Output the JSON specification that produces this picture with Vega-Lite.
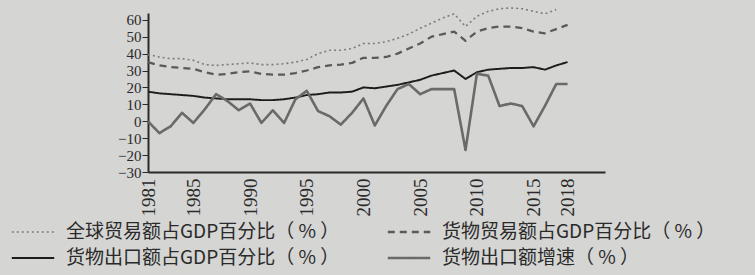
{
  "$schema": "https://vega.github.io/schema/vega-lite/v6.json",
  "width": 457,
  "height": 159,
  "autosize": {"type": "none"},
  "padding": {"left": 148, "top": 13, "right": 150, "bottom": 103},
  "background": "#d5d5d3",
  "config": {
    "view": {"stroke": null},
    "axis": {"grid": false, "domainColor": "#2a2a2a", "domainWidth": 2, "tickColor": "#2a2a2a", "labelColor": "#2a2a2a", "labelFont": "Liberation Serif", "labelFontSize": 15, "labelOverlap": false}
  },
  "datasets": {
    "d": [
      {"year": 1981, "s": "全球贸易额占GDP百分比（ % ）", "v": 39.5},
      {"year": 1982, "s": "全球贸易额占GDP百分比（ % ）", "v": 38},
      {"year": 1983, "s": "全球贸易额占GDP百分比（ % ）", "v": 37},
      {"year": 1984, "s": "全球贸易额占GDP百分比（ % ）", "v": 37},
      {"year": 1985, "s": "全球贸易额占GDP百分比（ % ）", "v": 36},
      {"year": 1986, "s": "全球贸易额占GDP百分比（ % ）", "v": 33.5},
      {"year": 1987, "s": "全球贸易额占GDP百分比（ % ）", "v": 33},
      {"year": 1988, "s": "全球贸易额占GDP百分比（ % ）", "v": 33.5},
      {"year": 1989, "s": "全球贸易额占GDP百分比（ % ）", "v": 34},
      {"year": 1990, "s": "全球贸易额占GDP百分比（ % ）", "v": 34.5},
      {"year": 1991, "s": "全球贸易额占GDP百分比（ % ）", "v": 33.5},
      {"year": 1992, "s": "全球贸易额占GDP百分比（ % ）", "v": 33.5},
      {"year": 1993, "s": "全球贸易额占GDP百分比（ % ）", "v": 34},
      {"year": 1994, "s": "全球贸易额占GDP百分比（ % ）", "v": 35},
      {"year": 1995, "s": "全球贸易额占GDP百分比（ % ）", "v": 36.5},
      {"year": 1996, "s": "全球贸易额占GDP百分比（ % ）", "v": 40},
      {"year": 1997, "s": "全球贸易额占GDP百分比（ % ）", "v": 42},
      {"year": 1998, "s": "全球贸易额占GDP百分比（ % ）", "v": 42},
      {"year": 1999, "s": "全球贸易额占GDP百分比（ % ）", "v": 43},
      {"year": 2000, "s": "全球贸易额占GDP百分比（ % ）", "v": 46},
      {"year": 2001, "s": "全球贸易额占GDP百分比（ % ）", "v": 46},
      {"year": 2002, "s": "全球贸易额占GDP百分比（ % ）", "v": 47},
      {"year": 2003, "s": "全球贸易额占GDP百分比（ % ）", "v": 49},
      {"year": 2004, "s": "全球贸易额占GDP百分比（ % ）", "v": 51.5},
      {"year": 2005, "s": "全球贸易额占GDP百分比（ % ）", "v": 55},
      {"year": 2006, "s": "全球贸易额占GDP百分比（ % ）", "v": 58},
      {"year": 2007, "s": "全球贸易额占GDP百分比（ % ）", "v": 61},
      {"year": 2008, "s": "全球贸易额占GDP百分比（ % ）", "v": 63.5},
      {"year": 2009, "s": "全球贸易额占GDP百分比（ % ）", "v": 56},
      {"year": 2010, "s": "全球贸易额占GDP百分比（ % ）", "v": 62},
      {"year": 2011, "s": "全球贸易额占GDP百分比（ % ）", "v": 65},
      {"year": 2012, "s": "全球贸易额占GDP百分比（ % ）", "v": 66.5},
      {"year": 2013, "s": "全球贸易额占GDP百分比（ % ）", "v": 67},
      {"year": 2014, "s": "全球贸易额占GDP百分比（ % ）", "v": 66.5},
      {"year": 2015, "s": "全球贸易额占GDP百分比（ % ）", "v": 65},
      {"year": 2016, "s": "全球贸易额占GDP百分比（ % ）", "v": 63.5},
      {"year": 2017, "s": "全球贸易额占GDP百分比（ % ）", "v": 66},
      {"year": 1981, "s": "货物贸易额占GDP百分比（ % ）", "v": 35},
      {"year": 1982, "s": "货物贸易额占GDP百分比（ % ）", "v": 33},
      {"year": 1983, "s": "货物贸易额占GDP百分比（ % ）", "v": 32},
      {"year": 1984, "s": "货物贸易额占GDP百分比（ % ）", "v": 31.5},
      {"year": 1985, "s": "货物贸易额占GDP百分比（ % ）", "v": 31},
      {"year": 1986, "s": "货物贸易额占GDP百分比（ % ）", "v": 29},
      {"year": 1987, "s": "货物贸易额占GDP百分比（ % ）", "v": 27.5},
      {"year": 1988, "s": "货物贸易额占GDP百分比（ % ）", "v": 28},
      {"year": 1989, "s": "货物贸易额占GDP百分比（ % ）", "v": 29},
      {"year": 1990, "s": "货物贸易额占GDP百分比（ % ）", "v": 29.5},
      {"year": 1991, "s": "货物贸易额占GDP百分比（ % ）", "v": 28},
      {"year": 1992, "s": "货物贸易额占GDP百分比（ % ）", "v": 27.5},
      {"year": 1993, "s": "货物贸易额占GDP百分比（ % ）", "v": 27.5},
      {"year": 1994, "s": "货物贸易额占GDP百分比（ % ）", "v": 28.5},
      {"year": 1995, "s": "货物贸易额占GDP百分比（ % ）", "v": 30},
      {"year": 1996, "s": "货物贸易额占GDP百分比（ % ）", "v": 32},
      {"year": 1997, "s": "货物贸易额占GDP百分比（ % ）", "v": 33},
      {"year": 1998, "s": "货物贸易额占GDP百分比（ % ）", "v": 33.5},
      {"year": 1999, "s": "货物贸易额占GDP百分比（ % ）", "v": 34.5},
      {"year": 2000, "s": "货物贸易额占GDP百分比（ % ）", "v": 37.5},
      {"year": 2001, "s": "货物贸易额占GDP百分比（ % ）", "v": 37.5},
      {"year": 2002, "s": "货物贸易额占GDP百分比（ % ）", "v": 38},
      {"year": 2003, "s": "货物贸易额占GDP百分比（ % ）", "v": 40},
      {"year": 2004, "s": "货物贸易额占GDP百分比（ % ）", "v": 43},
      {"year": 2005, "s": "货物贸易额占GDP百分比（ % ）", "v": 46},
      {"year": 2006, "s": "货物贸易额占GDP百分比（ % ）", "v": 50},
      {"year": 2007, "s": "货物贸易额占GDP百分比（ % ）", "v": 51.5},
      {"year": 2008, "s": "货物贸易额占GDP百分比（ % ）", "v": 53},
      {"year": 2009, "s": "货物贸易额占GDP百分比（ % ）", "v": 47.5},
      {"year": 2010, "s": "货物贸易额占GDP百分比（ % ）", "v": 53},
      {"year": 2011, "s": "货物贸易额占GDP百分比（ % ）", "v": 55},
      {"year": 2012, "s": "货物贸易额占GDP百分比（ % ）", "v": 56},
      {"year": 2013, "s": "货物贸易额占GDP百分比（ % ）", "v": 56},
      {"year": 2014, "s": "货物贸易额占GDP百分比（ % ）", "v": 55},
      {"year": 2015, "s": "货物贸易额占GDP百分比（ % ）", "v": 53},
      {"year": 2016, "s": "货物贸易额占GDP百分比（ % ）", "v": 52},
      {"year": 2017, "s": "货物贸易额占GDP百分比（ % ）", "v": 54.5},
      {"year": 2018, "s": "货物贸易额占GDP百分比（ % ）", "v": 57},
      {"year": 1981, "s": "货物出口额占GDP百分比（ % ）", "v": 17.5},
      {"year": 1982, "s": "货物出口额占GDP百分比（ % ）", "v": 16.5},
      {"year": 1983, "s": "货物出口额占GDP百分比（ % ）", "v": 16},
      {"year": 1984, "s": "货物出口额占GDP百分比（ % ）", "v": 15.5},
      {"year": 1985, "s": "货物出口额占GDP百分比（ % ）", "v": 15},
      {"year": 1986, "s": "货物出口额占GDP百分比（ % ）", "v": 14},
      {"year": 1987, "s": "货物出口额占GDP百分比（ % ）", "v": 13.5},
      {"year": 1988, "s": "货物出口额占GDP百分比（ % ）", "v": 13},
      {"year": 1989, "s": "货物出口额占GDP百分比（ % ）", "v": 13},
      {"year": 1990, "s": "货物出口额占GDP百分比（ % ）", "v": 13},
      {"year": 1991, "s": "货物出口额占GDP百分比（ % ）", "v": 12.5},
      {"year": 1992, "s": "货物出口额占GDP百分比（ % ）", "v": 12.5},
      {"year": 1993, "s": "货物出口额占GDP百分比（ % ）", "v": 13},
      {"year": 1994, "s": "货物出口额占GDP百分比（ % ）", "v": 14},
      {"year": 1995, "s": "货物出口额占GDP百分比（ % ）", "v": 15.5},
      {"year": 1996, "s": "货物出口额占GDP百分比（ % ）", "v": 16},
      {"year": 1997, "s": "货物出口额占GDP百分比（ % ）", "v": 17},
      {"year": 1998, "s": "货物出口额占GDP百分比（ % ）", "v": 17},
      {"year": 1999, "s": "货物出口额占GDP百分比（ % ）", "v": 17.5},
      {"year": 2000, "s": "货物出口额占GDP百分比（ % ）", "v": 20},
      {"year": 2001, "s": "货物出口额占GDP百分比（ % ）", "v": 19.5},
      {"year": 2002, "s": "货物出口额占GDP百分比（ % ）", "v": 20.5},
      {"year": 2003, "s": "货物出口额占GDP百分比（ % ）", "v": 21.5},
      {"year": 2004, "s": "货物出口额占GDP百分比（ % ）", "v": 23},
      {"year": 2005, "s": "货物出口额占GDP百分比（ % ）", "v": 24.5},
      {"year": 2006, "s": "货物出口额占GDP百分比（ % ）", "v": 27},
      {"year": 2007, "s": "货物出口额占GDP百分比（ % ）", "v": 28.5},
      {"year": 2008, "s": "货物出口额占GDP百分比（ % ）", "v": 30},
      {"year": 2009, "s": "货物出口额占GDP百分比（ % ）", "v": 25},
      {"year": 2010, "s": "货物出口额占GDP百分比（ % ）", "v": 29},
      {"year": 2011, "s": "货物出口额占GDP百分比（ % ）", "v": 30.5},
      {"year": 2012, "s": "货物出口额占GDP百分比（ % ）", "v": 31},
      {"year": 2013, "s": "货物出口额占GDP百分比（ % ）", "v": 31.5},
      {"year": 2014, "s": "货物出口额占GDP百分比（ % ）", "v": 31.5},
      {"year": 2015, "s": "货物出口额占GDP百分比（ % ）", "v": 32},
      {"year": 2016, "s": "货物出口额占GDP百分比（ % ）", "v": 30.5},
      {"year": 2017, "s": "货物出口额占GDP百分比（ % ）", "v": 33},
      {"year": 2018, "s": "货物出口额占GDP百分比（ % ）", "v": 35},
      {"year": 1981, "s": "货物出口额增速（ % ）", "v": 0},
      {"year": 1982, "s": "货物出口额增速（ % ）", "v": -7},
      {"year": 1983, "s": "货物出口额增速（ % ）", "v": -3},
      {"year": 1984, "s": "货物出口额增速（ % ）", "v": 5},
      {"year": 1985, "s": "货物出口额增速（ % ）", "v": -1},
      {"year": 1986, "s": "货物出口额增速（ % ）", "v": 7},
      {"year": 1987, "s": "货物出口额增速（ % ）", "v": 16},
      {"year": 1988, "s": "货物出口额增速（ % ）", "v": 12},
      {"year": 1989, "s": "货物出口额增速（ % ）", "v": 6.5},
      {"year": 1990, "s": "货物出口额增速（ % ）", "v": 10.5},
      {"year": 1991, "s": "货物出口额增速（ % ）", "v": -1},
      {"year": 1992, "s": "货物出口额增速（ % ）", "v": 6.5},
      {"year": 1993, "s": "货物出口额增速（ % ）", "v": -1},
      {"year": 1994, "s": "货物出口额增速（ % ）", "v": 13},
      {"year": 1995, "s": "货物出口额增速（ % ）", "v": 18},
      {"year": 1996, "s": "货物出口额增速（ % ）", "v": 6},
      {"year": 1997, "s": "货物出口额增速（ % ）", "v": 3},
      {"year": 1998, "s": "货物出口额增速（ % ）", "v": -2},
      {"year": 1999, "s": "货物出口额增速（ % ）", "v": 5},
      {"year": 2000, "s": "货物出口额增速（ % ）", "v": 13.5},
      {"year": 2001, "s": "货物出口额增速（ % ）", "v": -2.5},
      {"year": 2002, "s": "货物出口额增速（ % ）", "v": 9},
      {"year": 2003, "s": "货物出口额增速（ % ）", "v": 19},
      {"year": 2004, "s": "货物出口额增速（ % ）", "v": 22},
      {"year": 2005, "s": "货物出口额增速（ % ）", "v": 16},
      {"year": 2006, "s": "货物出口额增速（ % ）", "v": 19},
      {"year": 2007, "s": "货物出口额增速（ % ）", "v": 19},
      {"year": 2008, "s": "货物出口额增速（ % ）", "v": 19},
      {"year": 2009, "s": "货物出口额增速（ % ）", "v": -17},
      {"year": 2010, "s": "货物出口额增速（ % ）", "v": 28},
      {"year": 2011, "s": "货物出口额增速（ % ）", "v": 27},
      {"year": 2012, "s": "货物出口额增速（ % ）", "v": 9},
      {"year": 2013, "s": "货物出口额增速（ % ）", "v": 10.5},
      {"year": 2014, "s": "货物出口额增速（ % ）", "v": 9},
      {"year": 2015, "s": "货物出口额增速（ % ）", "v": -3},
      {"year": 2016, "s": "货物出口额增速（ % ）", "v": 9},
      {"year": 2017, "s": "货物出口额增速（ % ）", "v": 22},
      {"year": 2018, "s": "货物出口额增速（ % ）", "v": 22}
    ]
  },
  "data": {"name": "d"},
  "mark": {"type": "line", "strokeJoin": "round"},
  "encoding": {
    "x": {
      "field": "year", "type": "quantitative",
      "scale": {"domain": [1981, 2021.3], "nice": false, "zero": false},
      "axis": {"title": null, "values": [1981, 1985, 1990, 1995, 2000, 2005, 2010, 2015, 2018], "format": "d", "labelAngle": -90, "ticks": false, "labelPadding": 6, "labelFontSize": 19}
    },
    "y": {
      "field": "v", "type": "quantitative",
      "scale": {"domain": [-30, 64], "nice": false},
      "axis": {"title": null, "values": [-30, -20, -10, 0, 10, 20, 30, 40, 50, 60], "tickSize": 6, "labelPadding": 1}
    },
    "color": {
      "field": "s", "type": "nominal",
      "scale": {"domain": ["全球贸易额占GDP百分比（ % ）", "货物出口额占GDP百分比（ % ）", "货物贸易额占GDP百分比（ % ）", "货物出口额增速（ % ）"], "range": ["#7c7c7c", "#1c1c1c", "#5a5a5a", "#6a6a6a"]},
      "legend": {
        "title": null, "orient": "none", "legendX": -138, "legendY": 208, "direction": "vertical", "columns": 2,
        "symbolType": "M-1,0H1", "symbolSize": 1800, "symbolStrokeWidth": 2,
        "labelFont": "Noto Sans CJK SC", "labelFontSize": 19, "labelColor": "#2a2a2a", "labelLimit": 400,
        "labelOffset": 10, "clipHeight": 22, "rowPadding": 4, "columnPadding": 46
      }
    },
    "strokeDash": {
      "field": "s", "type": "nominal",
      "scale": {"domain": ["全球贸易额占GDP百分比（ % ）", "货物出口额占GDP百分比（ % ）", "货物贸易额占GDP百分比（ % ）", "货物出口额增速（ % ）"], "range": [[2, 3], [1, 0], [7, 5], [1, 0]]},
      "legend": {"title": null}
    },
    "strokeWidth": {
      "field": "s", "type": "ordinal",
      "scale": {"domain": ["全球贸易额占GDP百分比（ % ）", "货物出口额占GDP百分比（ % ）", "货物贸易额占GDP百分比（ % ）", "货物出口额增速（ % ）"], "range": [1.6, 2.6, 1.8, 1.8]},
      "legend": {"title": null}
    }
  }
}
